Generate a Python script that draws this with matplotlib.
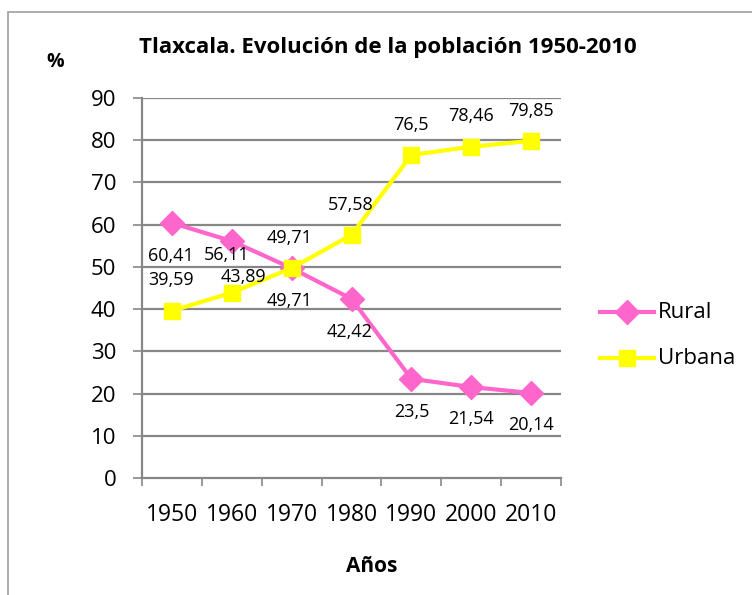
import matplotlib
matplotlib.use("Agg")
import matplotlib.pyplot as plt
from matplotlib.patches import Rectangle
from matplotlib.lines import Line2D

years = ["1950", "1960", "1970", "1980", "1990", "2000", "2010"]
rural = [60.41, 56.11, 49.71, 42.42, 23.5, 21.54, 20.14]
urbana = [39.59, 43.89, 49.71, 57.58, 76.5, 78.46, 79.85]
rural_labels = ["60,41", "56,11", "49,71", "42,42", "23,5", "21,54", "20,14"]
urbana_labels = ["39,59", "43,89", "49,71", "57,58", "76,5", "78,46", "79,85"]
yticks = [0, 10, 20, 30, 40, 50, 60, 70, 80, 90]

FONT = "Open Sans"
PINK = "#FF66CC"
YELLOW = "#FFFF00"
GRID = "#878787"

fig = plt.figure(figsize=(7.52, 5.95), dpi=100)
W, H = 752, 595

def fx(px):
    return px / W

def fy(py):
    return 1 - py / H

ax = fig.add_axes([fx(142), fy(478), fx(561) - fx(142), fy(98) - fy(478)])

x = list(range(len(years)))
ax.plot(x, rural, color=PINK, lw=3, marker="D", ms=12, mfc=PINK, mec=PINK, zorder=3, clip_on=False)
ax.plot(x, urbana, color=YELLOW, lw=3, marker="s", ms=12, mfc=YELLOW, mec=YELLOW, zorder=3, clip_on=False)

ax.set_xlim(-0.5, len(years) - 0.5)
ax.set_ylim(0, 90)
ax.set_yticks(yticks)
ax.set_yticklabels([str(v) for v in yticks], fontsize=16, family=FONT)
ax.set_xticks(x)
ax.set_xticklabels(years, fontsize=16.5, family=FONT)
ax.set_xticks([i - 0.5 for i in range(len(years) + 1)], minor=True)
ax.tick_params(axis="x", which="major", length=0, pad=18)
ax.tick_params(axis="x", which="minor", length=6, width=1.2, color=GRID, direction="out")
ax.tick_params(axis="y", length=6.5, width=1.2, color=GRID, direction="out", pad=12)
for v in yticks[1:]:
    ax.axhline(v, color=GRID, lw=1.6, zorder=1)
for s in ["top", "right"]:
    ax.spines[s].set_visible(False)
for s in ["left", "bottom"]:
    ax.spines[s].set_color(GRID)
    ax.spines[s].set_linewidth(1.6)

# data labels (pixel offsets, positive = up)
rural_off = [(-1, -33), (-5, -14), (-2, -33), (-2, -33), (0, -33), (0, -32), (0, -32)]
urbana_off = [(-1, 31), (12, 16), (-2, 30), (-1, 30), (0, 30), (0, 31), (0, 30)]
for i in x:
    ax.annotate(rural_labels[i], (i, rural[i]), xytext=rural_off[i], textcoords="offset pixels",
                ha="center", va="center", fontsize=13, family=FONT, zorder=4)
    ax.annotate(urbana_labels[i], (i, urbana[i]), xytext=urbana_off[i], textcoords="offset pixels",
                ha="center", va="center", fontsize=13, family=FONT, zorder=4)

fig.text(fx(388), fy(48), "Tlaxcala. Evolución de la población 1950-2010", ha="center", va="center",
         fontsize=16, fontweight="bold", family=FONT)
fig.text(fx(55), fy(62), "%", ha="center", va="center", fontsize=14, fontweight="bold", family=FONT)
fig.text(fx(372), fy(566), "Años", ha="center", va="center", fontsize=15, fontweight="bold", family=FONT)

# legend drawn manually in figure pixel coordinates
leg = [("Rural", PINK, "D", 12, 312), ("Urbana", YELLOW, "s", 12, 358)]
for name, col, mk, ms, py in leg:
    fig.add_artist(Line2D([fx(600), fx(654)], [fy(py), fy(py)], color=col, lw=3,
                          transform=fig.transFigure))
    fig.add_artist(Line2D([fx(627)], [fy(py)], color=col, marker=mk, ms=ms, mfc=col, mec=col,
                          transform=fig.transFigure))
    fig.text(fx(658), fy(py), name, ha="left", va="center", fontsize=16, family=FONT)

# chart border
fig.add_artist(Rectangle((fx(8), -0.1), 1.2, fy(12) + 0.1, transform=fig.transFigure,
                         fill=False, edgecolor="#A0A0A0", lw=1.2))

fig.savefig("out.png", dpi=100)
